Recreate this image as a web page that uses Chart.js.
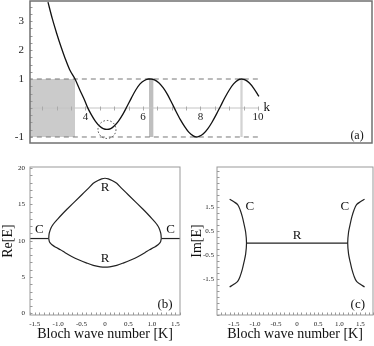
<!DOCTYPE html>
<html>
<head>
<meta charset="utf-8">
<script src="https://cdn.jsdelivr.net/npm/chart.js@4"></script>
<style>
  body { margin: 0; background: #fff; }
  #wrap { position: relative; width: 374px; height: 346px; }
  canvas { position: absolute; }
</style>
</head>
<body>
<div id="wrap">
  <canvas id="figA" width="374" height="150" style="left:0;top:0"></canvas>
  <canvas id="figB" width="190" height="186" style="left:0;top:160px"></canvas>
  <canvas id="figC" width="189" height="186" style="left:185px;top:160px"></canvas>
</div>
<script>
// (a) band function f(k)
const aK = [2.70, 2.85, 3.00, 3.15, 3.30, 3.45, 3.64, 3.80, 3.95, 4.07, 4.20, 4.35, 4.50, 4.62, 4.75, 4.88,
            5.00, 5.15, 5.30, 5.45, 5.60, 5.75, 5.90, 6.05, 6.20, 6.28, 6.40, 6.55, 6.70, 6.85, 7.00, 7.15,
            7.30, 7.45, 7.60, 7.75, 7.85, 7.95, 8.10, 8.25, 8.40, 8.55, 8.70, 8.85, 9.00, 9.15, 9.30, 9.42,
            9.55, 9.70, 9.85, 10.03];
const aF = [3.65, 3.08, 2.58, 2.12, 1.70, 1.33, 1.00, 0.64, 0.32, 0.03, -0.22, -0.46, -0.63, -0.71, -0.74, -0.71,
            -0.62, -0.45, -0.22, 0.06, 0.35, 0.62, 0.83, 0.95, 1.00, 1.00, 0.97, 0.87, 0.70, 0.47, 0.18, -0.12,
            -0.40, -0.64, -0.84, -0.96, -1.00, -0.98, -0.89, -0.72, -0.49, -0.22, 0.07, 0.36, 0.62, 0.83, 0.96, 1.00,
            0.97, 0.86, 0.68, 0.40];
const aBlockK = [2.0, 3.64];   // grey block
const aBar1K = [6.21, 6.37];
const aBar2K = [9.38, 9.47];
const aDashK = [2.0, 10.1];
const aAxisK = [2.0, 10.0];
const aYTicks = [-1, 1, 2, 3];
const aXTicks = [4, 6, 8, 10];

// (b) Re[E] against Bloch wave number
const bUpperK = [-1.2, -1.195, -1.18, -1.15, -1.1, -1.0, -0.9, -0.8, -0.65, -0.5, -0.35, -0.25, -0.15, -0.07, 0,
                 0.07, 0.15, 0.25, 0.35, 0.5, 0.65, 0.8, 0.9, 1.0, 1.1, 1.15, 1.18, 1.195, 1.2];
const bUpperE = [10.3, 10.8, 11.25, 11.8, 12.3, 13.05, 13.75, 14.4, 15.35, 16.3, 17.25, 17.9, 18.3, 18.52, 18.6,
                 18.52, 18.3, 17.9, 17.25, 16.3, 15.35, 14.4, 13.75, 13.05, 12.3, 11.8, 11.25, 10.8, 10.3];
const bLowerK = [-1.2, -1.19, -1.17, -1.13, -1.05, -0.95, -0.85, -0.7, -0.55, -0.4, -0.25, -0.1, 0,
                 0.1, 0.25, 0.4, 0.55, 0.7, 0.85, 0.95, 1.05, 1.13, 1.17, 1.19, 1.2];
const bLowerE = [10.3, 9.95, 9.7, 9.45, 9.1, 8.75, 8.35, 7.8, 7.35, 6.95, 6.6, 6.4, 6.35,
                 6.4, 6.6, 6.95, 7.35, 7.8, 8.35, 8.75, 9.1, 9.45, 9.7, 9.95, 10.3];
const bLeftK = [-1.6, -1.2];
const bRightK = [1.2, 1.6];
const bFlatE = [10.3, 10.3];
const bYTicks = [0, 5, 10, 15, 20];

// (c) Im[E] against Bloch wave number
const cLeftK = [-1.6, -1.5, -1.41, -1.35, -1.3, -1.26, -1.22, -1.2, -1.22, -1.26, -1.3, -1.35, -1.41, -1.5, -1.6];
const cLeftE = [1.83, 1.72, 1.6, 1.38, 1.1, 0.8, 0.45, 0, -0.45, -0.8, -1.1, -1.38, -1.6, -1.72, -1.83];
const cRightK = [1.6, 1.5, 1.41, 1.35, 1.3, 1.26, 1.22, 1.2, 1.22, 1.26, 1.3, 1.35, 1.41, 1.5, 1.6];
const cRightE = [1.83, 1.72, 1.6, 1.38, 1.1, 0.8, 0.45, 0, -0.45, -0.8, -1.1, -1.38, -1.6, -1.72, -1.83];
const cMidK = [-1.2, 1.2];
const cMidE = [0, 0];
const cYTicks = [-1.5, -0.5, 0.5, 1.5];

const kTicks = [-1.5, -1.0, -0.5, 0, 0.5, 1.0, 1.5];

const serif = 'Liberation Serif';
Chart.defaults.font.family = serif;
Chart.defaults.color = '#222';
Chart.defaults.animation = false;
Chart.defaults.plugins.legend.display = false;
Chart.defaults.plugins.tooltip.enabled = false;
Chart.defaults.elements.point.radius = 0;

function xy(xs, ys) {
  return xs.map((x, i) => ({ x: x, y: ys[i] }));
}
function fixTicks(values) {
  return scale => { scale.ticks = values.map(v => ({ value: v })); };
}
// fixed axis size, and no extra room for end labels
function fitTo(prop, size) {
  return s => {
    s[prop] = size;
    s.paddingTop = 0; s.paddingBottom = 0; s.paddingLeft = 0; s.paddingRight = 0;
  };
}
function fmtK(v) {
  return v === 0 ? '0' : v.toFixed(1);
}

// frame, small inner ticks, k axis of panel (a), text labels
const deco = {
  id: 'deco',
  afterDatasetsDraw(chart, args, o) {
    const ctx = chart.ctx, a = chart.chartArea;
    const sx = chart.scales.x, sy = chart.scales.y;
    ctx.save();
    ctx.strokeStyle = '#999';
    ctx.lineWidth = 1;
    if (o.yStep) {
      for (let i = Math.ceil(sy.min / o.yStep); i * o.yStep <= sy.max; i++) {
        const py = Math.round(sy.getPixelForValue(i * o.yStep)) + 0.5;
        ctx.beginPath(); ctx.moveTo(a.left, py); ctx.lineTo(a.left + 2.5, py); ctx.stroke();
      }
    }
    if (o.xStep) {
      for (let i = Math.ceil(sx.min / o.xStep); i * o.xStep <= sx.max; i++) {
        const px = Math.round(sx.getPixelForValue(i * o.xStep)) + 0.5;
        ctx.beginPath(); ctx.moveTo(px, a.bottom); ctx.lineTo(px, a.bottom - 2.5); ctx.stroke();
      }
    }
    if (o.kAxis) {
      const y0 = Math.round(sy.getPixelForValue(0)) + 0.5;
      ctx.strokeStyle = '#aaa';
      for (let i = o.kAxis.from * 2; i <= o.kAxis.to * 2; i++) {
        const px = Math.round(sx.getPixelForValue(i / 2)) + 0.5;
        ctx.beginPath(); ctx.moveTo(px, y0 - 2); ctx.lineTo(px, y0 + 2); ctx.stroke();
      }
      ctx.fillStyle = '#222';
      ctx.textAlign = 'center';
      ctx.textBaseline = 'middle';
      ctx.font = '11px ' + serif;
      o.kAxis.labels.forEach(v => ctx.fillText(String(v), sx.getPixelForValue(v), y0 + 8.5));
    }
    if (o.circle) {
      ctx.strokeStyle = '#444';
      ctx.setLineDash([1.5, 2]);
      ctx.beginPath();
      ctx.arc(sx.getPixelForValue(o.circle.x), sy.getPixelForValue(o.circle.y), o.circle.r, 0, Math.PI * 2);
      ctx.stroke();
      ctx.setLineDash([]);
    }
    ctx.strokeStyle = o.frame;
    ctx.lineWidth = o.frameWidth;
    ctx.strokeRect(a.left, a.top, a.right - a.left, a.bottom - a.top);
    ctx.fillStyle = '#111';
    ctx.textAlign = 'center';
    ctx.textBaseline = 'middle';
    (o.texts || []).forEach(t => {
      ctx.font = t.size + 'px ' + serif;
      ctx.fillText(t.text, sx.getPixelForValue(t.x), sy.getPixelForValue(t.y));
    });
    ctx.restore();
  }
};

// ---- panel (a)
new Chart(document.getElementById('figA'), {
  type: 'line',
  data: {
    datasets: [
      { data: xy(aK, aF), borderColor: '#111', borderWidth: 1.3, cubicInterpolationMode: 'monotone' },
      { data: xy(aDashK, [1, 1]), borderColor: '#777', borderWidth: 1, borderDash: [5, 4] },
      { data: xy(aDashK, [-1, -1]), borderColor: '#777', borderWidth: 1, borderDash: [5, 4] },
      { data: xy(aAxisK, [0, 0]), borderColor: '#c4c4c4', borderWidth: 1 },
      { data: xy(aBlockK, [1, 1]), borderWidth: 0, borderColor: 'rgba(0,0,0,0)', fill: { value: -1 }, backgroundColor: '#cbcbcb' },
      { data: xy(aBar1K, [1, 1]), borderWidth: 0, borderColor: 'rgba(0,0,0,0)', fill: { value: -1 }, backgroundColor: '#bfbfbf' },
      { data: xy(aBar2K, [1, 1]), borderWidth: 0, borderColor: 'rgba(0,0,0,0)', fill: { value: -1 }, backgroundColor: '#d3d3d3' }
    ]
  },
  options: {
    responsive: false,
    layout: { padding: { top: 1, right: 2, bottom: 7, left: 0 } },
    scales: {
      x: { type: 'linear', min: 2.075, max: 13.96, display: false },
      y: {
        min: -1.207, max: 3.69,
        afterBuildTicks: fixTicks(aYTicks),
        afterFit: fitTo('width', 30),
        border: { display: false },
        grid: { display: false, drawTicks: false },
        ticks: { font: { size: 11 }, padding: 6, callback: v => String(v) }
      }
    },
    plugins: {
      deco: {
        frame: '#707070', frameWidth: 1.5, yStep: 0.25,
        kAxis: { from: 2.5, to: 10, labels: aXTicks },
        circle: { x: 4.75, y: -0.74, r: 9 },
        texts: [
          { text: 'k', x: 10.3, y: 0.03, size: 13 },
          { text: '(a)', x: 13.44, y: -0.97, size: 12 }
        ]
      }
    }
  },
  plugins: [deco]
});

// ---- panel (b)
new Chart(document.getElementById('figB'), {
  type: 'line',
  data: {
    datasets: [
      { data: xy(bUpperK, bUpperE), borderColor: '#222', borderWidth: 1.2, cubicInterpolationMode: 'monotone' },
      { data: xy(bLowerK, bLowerE), borderColor: '#222', borderWidth: 1.2, cubicInterpolationMode: 'monotone' },
      { data: xy(bLeftK, bFlatE), borderColor: '#222', borderWidth: 1.2 },
      { data: xy(bRightK, bFlatE), borderColor: '#222', borderWidth: 1.2 }
    ]
  },
  options: {
    responsive: false,
    layout: { padding: { top: 7, right: 10, bottom: 0, left: 0 } },
    scales: {
      x: {
        type: 'linear', min: -1.6, max: 1.6,
        afterBuildTicks: fixTicks(kTicks),
        afterFit: fitTo('height', 31),
        border: { display: false },
        grid: { display: false, drawTicks: false },
        ticks: { font: { size: 7 }, padding: 5, autoSkip: false, maxRotation: 0, callback: fmtK },
        title: { display: true, text: 'Bloch wave number [K]', color: '#111', font: { size: 14 }, padding: { top: 0, bottom: 3 } }
      },
      y: {
        min: -0.23, max: 20.15,
        afterBuildTicks: fixTicks(bYTicks),
        afterFit: fitTo('width', 30),
        border: { display: false },
        grid: { display: false, drawTicks: false },
        ticks: { font: { size: 7 }, padding: 5, callback: v => String(v) },
        title: { display: true, text: 'Re[E]', color: '#111', font: { size: 14 }, padding: { top: 0, bottom: 0 } }
      }
    },
    plugins: {
      deco: {
        frame: '#999', frameWidth: 1, yStep: 1, xStep: 0.1,
        texts: [
          { text: 'R', x: 0, y: 17.26, size: 13 },
          { text: 'R', x: 0, y: 7.6, size: 13 },
          { text: 'C', x: -1.4, y: 11.6, size: 13 },
          { text: 'C', x: 1.4, y: 11.6, size: 13 },
          { text: '(b)', x: 1.28, y: 1.15, size: 13 }
        ]
      }
    }
  },
  plugins: [deco]
});

// ---- panel (c)
new Chart(document.getElementById('figC'), {
  type: 'line',
  data: {
    datasets: [
      { data: xy(cLeftK, cLeftE), borderColor: '#222', borderWidth: 1.2, tension: 0.3 },
      { data: xy(cRightK, cRightE), borderColor: '#222', borderWidth: 1.2, tension: 0.3 },
      { data: xy(cMidK, cMidE), borderColor: '#222', borderWidth: 1.2 }
    ]
  },
  options: {
    responsive: false,
    layout: { padding: { top: 7, right: 1, bottom: 0, left: 0 } },
    scales: {
      x: {
        type: 'linear', min: -1.9, max: 1.8,
        afterBuildTicks: fixTicks(kTicks),
        afterFit: fitTo('height', 31),
        border: { display: false },
        grid: { display: false, drawTicks: false },
        ticks: { font: { size: 7 }, padding: 5, autoSkip: false, maxRotation: 0, callback: fmtK },
        title: { display: true, text: 'Bloch wave number [K]', color: '#111', font: { size: 14 }, padding: { top: 0, bottom: 3 } }
      },
      y: {
        min: -3.0, max: 3.17,
        afterBuildTicks: fixTicks(cYTicks),
        afterFit: fitTo('width', 32),
        border: { display: false },
        grid: { display: false, drawTicks: false },
        ticks: { font: { size: 7 }, padding: 3, callback: v => String(v) },
        title: { display: true, text: 'Im[E]', color: '#111', font: { size: 14 }, padding: { top: 4, bottom: 0 } }
      }
    },
    plugins: {
      deco: {
        frame: '#999', frameWidth: 1, yStep: 0.25, xStep: 0.1,
        texts: [
          { text: 'C', x: -1.12, y: 1.54, size: 13 },
          { text: 'C', x: 1.13, y: 1.54, size: 13 },
          { text: 'R', x: 0, y: 0.33, size: 13 },
          { text: '(c)', x: 1.44, y: -2.58, size: 13 }
        ]
      }
    }
  },
  plugins: [deco]
});
</script>
</body>
</html>
